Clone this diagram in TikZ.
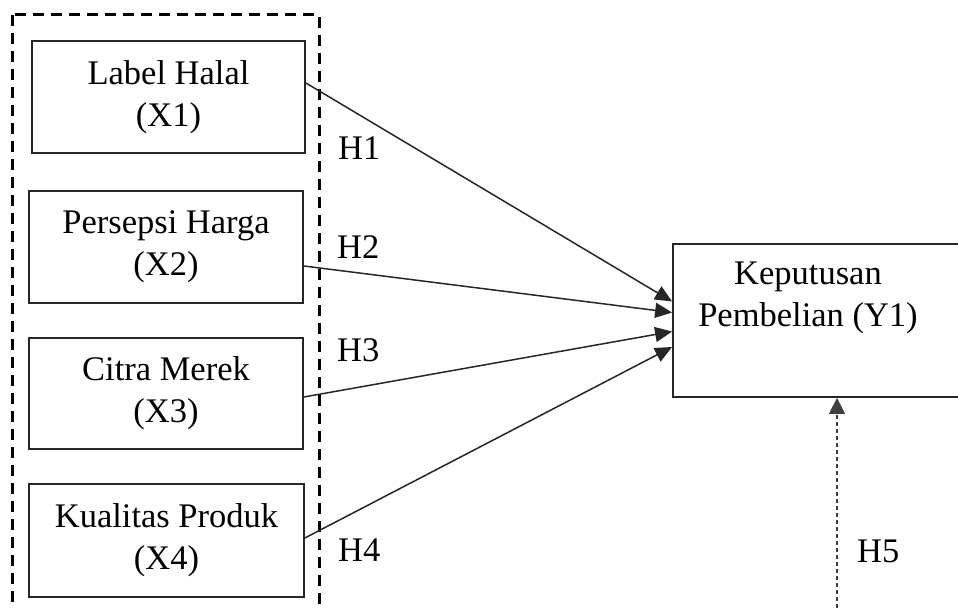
\documentclass[tikz,border=0pt]{standalone}
\usepackage{fontspec}
\setmainfont{Liberation Serif}
\usetikzlibrary{arrows.meta}
\begin{document}
\begin{tikzpicture}[x=1pt,y=-1pt,
  txt/.style={font=\fontsize{34.5}{42}\selectfont, text=black},
  varbox/.style={txt, draw=black!85, line width=1.8pt, minimum width=274pt, minimum height=112pt, align=center, inner sep=0pt},
  hlab/.style={txt, anchor=base west, inner sep=0pt},
  conn/.style={draw=black!85, line width=1.5pt, -{Triangle[length=17pt,width=15pt]}},
  dconn/.style={draw=black!75, line width=1.5pt, dash pattern=on 4pt off 3pt, -{Triangle[length=16pt,width=16pt]}},
  groupframe/.style={draw=black, line width=3pt, dash pattern=on 11pt off 7pt}
]
\useasboundingbox (0,0) rectangle (958,609);
\clip (0,0) rectangle (958,609);

\draw[groupframe] (12,15) rectangle (319,660);

\node[varbox, minimum width=273pt] (X1) at (168.5,97) {Label Halal\\(X1)};
\node[varbox] (X2) at (166,247) {Persepsi Harga\\(X2)};
\node[varbox, minimum height=111pt] (X3) at (166,393.5) {Citra Merek\\(X3)};
\node[varbox, minimum width=275pt, minimum height=113pt] (X4) at (166.5,540.5) {Kualitas Produk\\(X4)};

\node[draw=black!85, line width=1.8pt, minimum width=307pt, minimum height=153pt, inner sep=0pt] (Y1) at (826.5,320.5) {};
\node[txt, align=center, inner sep=0pt] (Y1t) at (808,298) {Keputusan\\Pembelian (Y1)};

\draw[conn] ([yshift=14pt]X1.east) -- ([yshift=19pt]Y1.west);
\draw[conn] ([yshift=-19pt]X2.east) -- ([yshift=8pt]Y1.west);
\draw[conn] ([yshift=-3.5pt]X3.east) -- ([yshift=-11pt]Y1.west);
\draw[conn] ([yshift=2.5pt]X4.east) -- ([yshift=-26.5pt]Y1.west);

\coordinate (h5b) at (837,615);
\draw[dconn] (h5b) -- (h5b |- Y1.south);

\node[hlab] (H1) at (338,160) {H1};
\node[hlab] (H2) at (337,259) {H2};
\node[hlab] (H3) at (337,362) {H3};
\node[hlab] (H4) at (338,561) {H4};
\node[hlab] (H5) at (857,562) {H5};
\end{tikzpicture}
\end{document}
